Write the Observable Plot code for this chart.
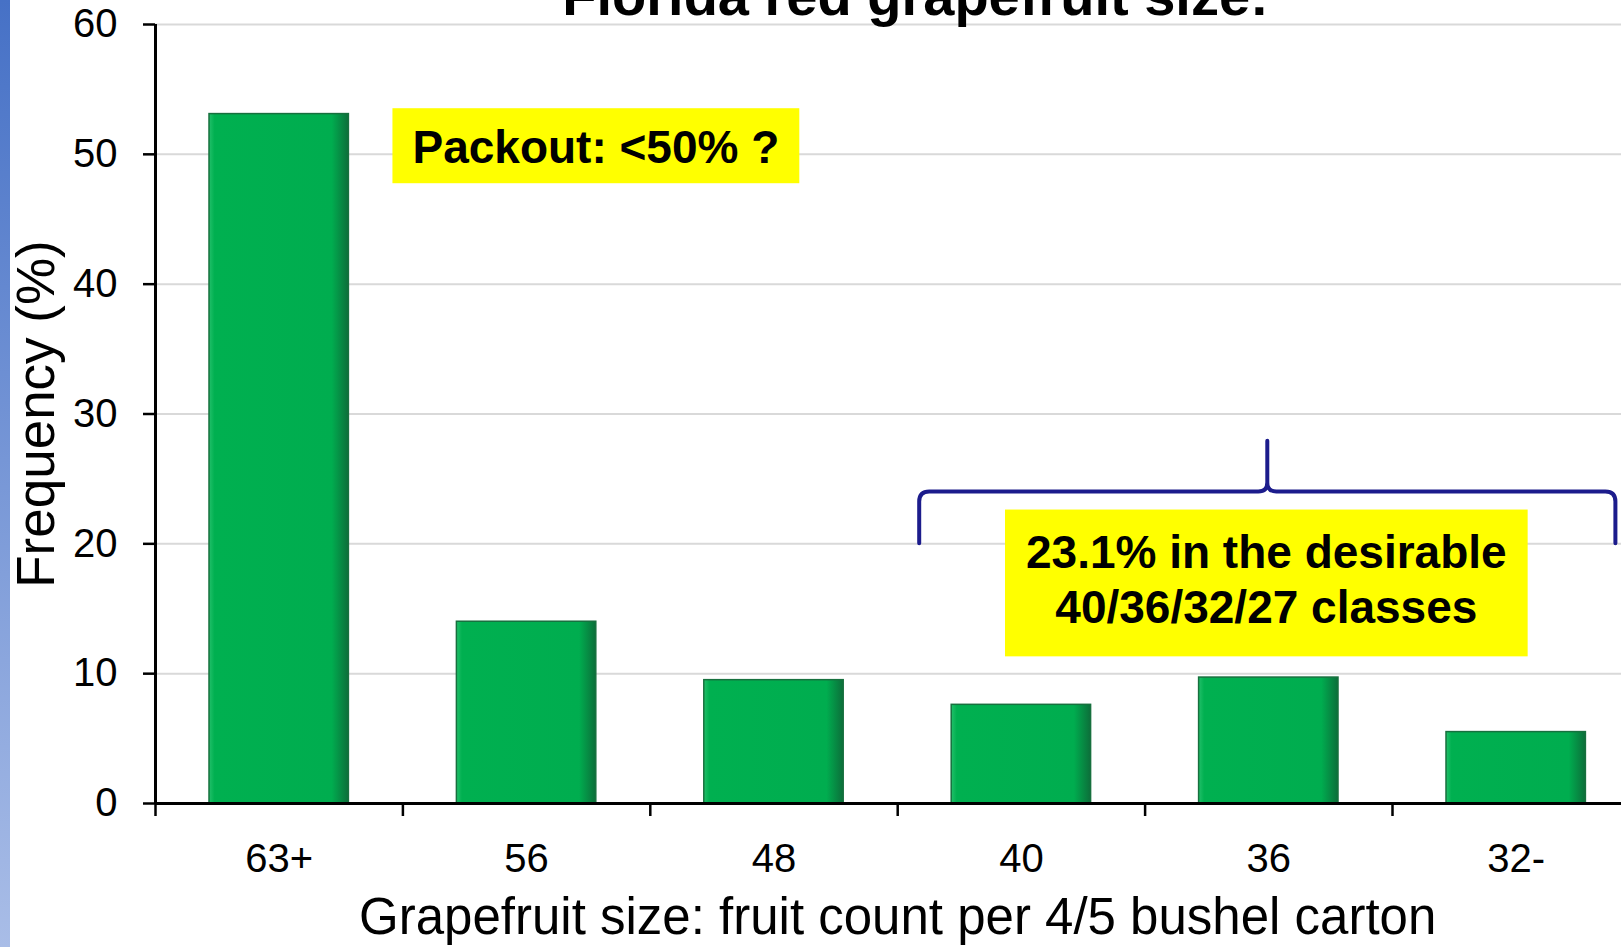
<!DOCTYPE html>
<html>
<head>
<meta charset="utf-8">
<script src="https://cdn.jsdelivr.net/npm/d3@7"></script>
<script src="https://cdn.jsdelivr.net/npm/@observablehq/plot@0.6"></script>
<style>
html, body { margin: 0; padding: 0; background: #fff; overflow: hidden; }
#strip { position: absolute; left: 0; top: 0; width: 10px; height: 947px; background: linear-gradient(#4671c6, #a9bde7); z-index: 2; }
#chart { position: absolute; left: 0; top: 0; }
</style>
</head>
<body>
<div id="strip"></div>
<div id="chart"></div>
<script>
// ---- data ----
const sizeClasses = ["63+", "56", "48", "40", "36", "32-"];
const frequency = [53.1, 14.0, 9.5, 7.6, 9.7, 5.5];
const yTicks = [0, 10, 20, 30, 40, 50, 60];
const desirableClasses = ["40", "36", "32-"];
const titleText = ["Florida red grapefruit size:"];
const xLabel = ["Grapefruit size: fruit count per 4/5 bushel carton"];
const yLabel = ["Frequency (%)"];
const packoutNote = ["Packout: <50% ?"];
const desirableNote = ["23.1% in the desirable", "40/36/32/27 classes"];

const data = sizeClasses.map((size, i) => ({size, i, freq: frequency[i]}));

const FONT = '"Liberation Sans", Arial, Helvetica, sans-serif';
const W = 1621, H = 947;

const defsMark = () => {
  const ns = "http://www.w3.org/2000/svg";
  const defs = document.createElementNS(ns, "defs");
  const g = document.createElementNS(ns, "linearGradient");
  g.setAttribute("id", "barGrad");
  g.setAttribute("x1", "0"); g.setAttribute("x2", "1");
  g.setAttribute("y1", "0"); g.setAttribute("y2", "0");
  [["0", "#22c06a"], ["0.04", "#00b050"], ["0.88", "#00ad4f"], ["1", "#0c6e3a"]].forEach(([o, c]) => {
    const s = document.createElementNS(ns, "stop");
    s.setAttribute("offset", o); s.setAttribute("stop-color", c);
    g.appendChild(s);
  });
  defs.appendChild(g);
  return defs;
};

const braceMark = (index, {x, y}) => {
  const ns = "http://www.w3.org/2000/svg";
  const i0 = sizeClasses.indexOf(desirableClasses[0]);
  const i1 = sizeClasses.indexOf(desirableClasses[desirableClasses.length - 1]) + 1;
  const x0 = x(i0) + 22, x1 = x(i1) - 24, xc = (x0 + x1) / 2;
  const yE = y(20), yH = y(24), yP = y(27.9);
  const r = 10, r2 = 9;
  const d = `M${x0},${yE} L${x0},${yH + r} Q${x0},${yH} ${x0 + r},${yH} L${xc - r2},${yH} Q${xc},${yH} ${xc},${yH - r2} L${xc},${yP}` +
            ` M${xc},${yH - r2} Q${xc},${yH} ${xc + r2},${yH} L${x1 - r},${yH} Q${x1},${yH} ${x1},${yH + r} L${x1},${yE}`;
  const p = document.createElementNS(ns, "path");
  p.setAttribute("d", d);
  p.setAttribute("fill", "none");
  p.setAttribute("stroke", "#1c1c8c");
  p.setAttribute("stroke-width", "4");
  p.setAttribute("stroke-linecap", "round");
  p.setAttribute("stroke-linejoin", "round");
  return p;
};

const chart = Plot.plot({
  width: W,
  height: H,
  marginLeft: 155,
  marginRight: 0,
  marginTop: 24,
  marginBottom: 144,
  style: {fontFamily: FONT, color: "#000", background: "transparent", overflow: "visible"},
  x: {domain: [0, sizeClasses.length], range: [155, 1639.4]},
  y: {domain: [0, 60]},
  marks: [
    defsMark,
    Plot.gridY(yTicks.filter(t => t > 0), {stroke: "#d9d9d9", strokeOpacity: 1, strokeWidth: 2}),
    Plot.rectY(data, {x1: "i", x2: d => d.i + 1, y: "freq", insetLeft: 54, insetRight: 54,
      fill: "url(#barGrad)", stroke: "#17703e", strokeWidth: 1.5}),
    Plot.axisY({ticks: yTicks, tickSize: 12, tickPadding: 26, fontSize: 40, strokeWidth: 2.5, label: null}),
    Plot.axisX({ticks: d3.range(sizeClasses.length + 1), tickSize: 13, tickFormat: () => "", strokeWidth: 2.5, label: null}),
    Plot.axisX({ticks: sizeClasses.map((s, i) => i + 0.5), tickSize: 0, tickPadding: 40, fontSize: 40,
      tickFormat: d => sizeClasses[Math.floor(d)], label: null}),
    Plot.ruleY([0], {strokeWidth: 3}),
    Plot.ruleX([0], {y1: 0, y2: 60, strokeWidth: 3}),
    braceMark,
    Plot.text(packoutNote, {x: () => 1.78, y: () => 50.45, fontSize: 46, fontWeight: "bold", lineAnchor: "middle", fill: "#000"}),
    Plot.text([desirableNote.join("\n")], {x: () => 4.49, y: () => 17.4, fontSize: 46, fontWeight: "bold",
      lineAnchor: "middle", lineHeight: 1.213, fill: "#000"}),
    Plot.text(titleText, {frameAnchor: "top", dx: 27, dy: -10, lineAnchor: "bottom", fontSize: 56, fontWeight: "bold", fill: "#000"}),
    Plot.text(yLabel, {frameAnchor: "left", rotate: -90, dx: -102, textAnchor: "middle", lineAnchor: "bottom", fontSize: 53, fill: "#000"}),
    Plot.text(xLabel, {x: () => sizeClasses.length / 2, frameAnchor: "bottom", dy: 130, lineAnchor: "bottom", fontSize: 51, fill: "#000"})
  ]
});

document.getElementById("chart").append(chart);

// yellow boxes behind annotation texts
const boxPads = [
  {match: packoutNote[0], l: 20, r: 20, t: 13, b: 10},
  {match: desirableNote[0], l: 21, r: 21, t: 16, b: 23}
];
const svgRect = chart.getBoundingClientRect();
chart.querySelectorAll("text").forEach(t => {
  const pad = boxPads.find(p => t.textContent.startsWith(p.match));
  if (!pad) return;
  const b = t.getBoundingClientRect();
  let g = t;
  while (g.parentNode !== chart) g = g.parentNode;
  const rect = document.createElementNS("http://www.w3.org/2000/svg", "rect");
  rect.setAttribute("x", b.left - svgRect.left - pad.l);
  rect.setAttribute("y", b.top - svgRect.top - pad.t);
  rect.setAttribute("width", b.width + pad.l + pad.r);
  rect.setAttribute("height", b.height + pad.t + pad.b);
  rect.setAttribute("fill", "#ffff00");
  chart.insertBefore(rect, g);
});
</script>
</body>
</html>
